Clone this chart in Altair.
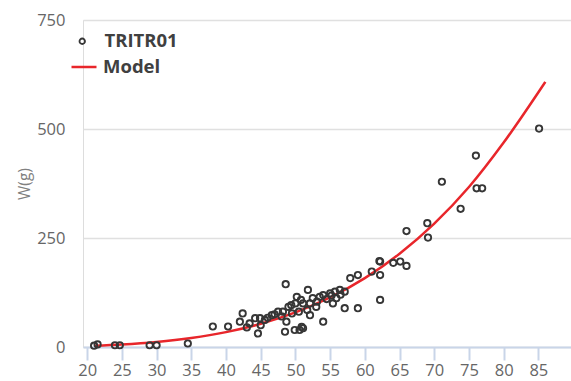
import altair as alt
import pandas as pd

# Observed length (cm) and weight (g) of each specimen
length = [21.0, 21.5, 24.0, 24.7, 29.0, 30.0, 34.5, 38.1, 40.3, 42.0,
          42.4, 43.0, 43.4, 44.2, 44.6, 44.9, 45.0, 45.6, 46.0, 46.6,
          47.0, 47.5, 48.0, 48.2, 48.5, 48.6, 48.7, 49.0, 49.4, 49.5,
          49.9, 50.0, 50.2, 50.5, 50.6, 50.8, 50.9, 51.1, 51.1, 51.7,
          51.8, 52.1, 52.1, 52.5, 53.0, 53.1, 53.5, 54.0, 54.0, 54.5,
          55.0, 55.2, 55.4, 55.7, 55.9, 56.4, 56.5, 57.1, 57.1, 57.9,
          59.0, 59.0, 61.0, 62.1, 62.2, 62.2, 62.2, 64.1, 65.1, 66.0,
          66.0, 69.0, 69.1, 71.1, 73.8, 76.0, 76.1, 76.9, 85.1]
weight = [3, 6, 4, 4, 4, 4, 8, 47, 47, 58,
          77, 45, 54, 66, 31, 66, 50, 62, 67, 73,
          75, 81, 70, 81, 35, 144, 58, 92, 96, 77,
          39, 100, 115, 81, 39, 108, 46, 100, 43, 85,
          131, 100, 73, 112, 92, 104, 115, 119, 58, 110,
          123, 118, 100, 127, 112, 131, 120, 127, 89, 158,
          165, 89, 173, 197, 165, 108, 196, 193, 196, 266,
          186, 284, 251, 379, 317, 439, 364, 364, 501]

# Fitted length-weight model
model_length = [21, 25, 30, 35, 40, 45, 50, 55, 60, 65, 70, 75, 80, 86]
model_weight = [3.0, 5.8, 11.5, 20.6, 34.1, 53.2, 79.3, 113.7, 158, 214,
                283, 367, 469, 608]

x_ticks = [20, 25, 30, 35, 40, 45, 50, 55, 60, 65, 70, 75, 80, 85]
y_ticks = [0, 250, 500, 750]

obs = pd.DataFrame({"L": length, "W": weight, "series": "TRITR01"})
fit = pd.DataFrame({"L": model_length, "W": model_weight, "series": "Model"})

FONT = "Open Sans"
LABEL_GRAY = "#666666"

x_enc = alt.X(
    "L:Q",
    scale=alt.Scale(domain=[19.4, 89.7], nice=False, zero=False),
    axis=alt.Axis(
        values=x_ticks, title=None, grid=False,
        domainColor="#c9d5e8", domainWidth=2,
        tickColor="#c9d5e8", tickWidth=2, tickSize=13,
        labelPadding=2, labelFont=FONT, labelFontSize=16.5,
        labelColor=LABEL_GRAY, labelFlush=False, labelOverlap=False,
    ),
)
y_enc = alt.Y(
    "W:Q",
    scale=alt.Scale(domain=[0, 750], nice=False),
    axis=alt.Axis(
        values=y_ticks, title="W(g)", domain=False, ticks=False,
        grid=True, gridColor="#e0e0e0", gridWidth=1.5,
        labelPadding=18, labelFont=FONT, labelFontSize=16.5,
        labelColor=LABEL_GRAY, labelOverlap=False,
        titleFont=FONT, titleFontSize=15.5, titleFontWeight="normal",
        titleColor="#808080", titleAngle=-90,
        titleX=-59, titleY=163.5, titleAlign="center", titleBaseline="middle",
    ),
)

legend_common = dict(
    orient="none", title=None, padding=0,
    labelFont=FONT, labelFontSize=18.5, labelFontWeight="bold",
    labelColor="#404040",
)

points = alt.Chart(obs).mark_point(
    shape="circle", filled=False, size=40, strokeWidth=1.9, opacity=1,
).encode(
    x=x_enc, y=y_enc,
    color=alt.Color(
        "series:N",
        scale=alt.Scale(domain=["TRITR01"], range=["#363636"]),
        legend=alt.Legend(
            legendX=-10, legendY=12, symbolType="circle",
            symbolSize=30, symbolStrokeWidth=1.8, labelOffset=13,
            **legend_common,
        ),
    ),
)

line = alt.Chart(fit).mark_line(
    strokeWidth=2.5, interpolate="monotone",
).encode(
    x=x_enc, y=y_enc,
    color=alt.Color(
        "series:N",
        scale=alt.Scale(domain=["Model"], range=["#e8262b"]),
        legend=alt.Legend(
            legendX=-13, legendY=33, symbolType="stroke",
            symbolSize=625, symbolStrokeWidth=2.5, labelOffset=5,
            **legend_common,
        ),
    ),
)

chart = alt.layer(line, points).resolve_scale(color="independent").properties(
    width=488, height=327,
    autosize=alt.AutoSizeParams(type="none"),
    padding={"left": 83, "top": 20, "right": 0, "bottom": 34},
).configure_view(stroke=None).configure(background="white")

chart.save("out.html", embed_options={"renderer": "svg", "actions": False})
